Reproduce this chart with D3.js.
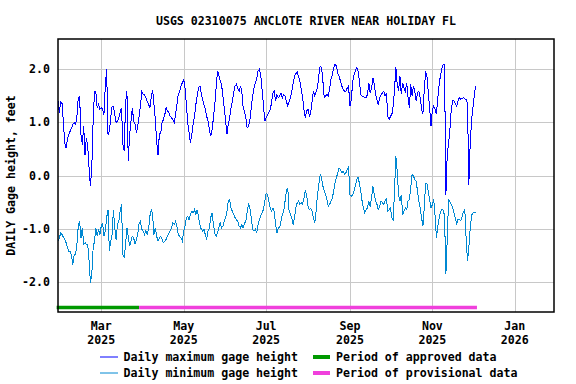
<!DOCTYPE html>
<html>
<head>
<meta charset="utf-8">
<script src="https://cdn.jsdelivr.net/npm/d3@7"></script>
<style>
body { margin: 0; background: #fff; }
svg text { font-family: "DejaVu Sans Mono", monospace; font-weight: bold; font-size: 11.6px; fill: #000; }
</style>
</head>
<body>
<div id="gage_div"></div>
<script>
// USGS daily gage height, max and min, one value per day starting at startDay
var startDay = "2025-01-28";
var domainDays = ["2025-01-28", "2026-01-30"];

var dailyMax = [
  1.39, 1.18, 1.38, 1.35, 0.99, 0.6, 0.52, 0.68, 0.77, 0.83,
  0.89, 0.96, 0.99, 0.96, 1.11, 1.46, 1.48, 0.77, 0.58, 0.93,
  0.39, 0.71, 0.55, 0.14, -0.2, 0.14, 1.02, 1.57, 1.57, 1.27,
  1.33, 1.24, 1.27, 1.24, 1.14, 1.68, 2.0, 0.77, 0.83, 1.08,
  1.3, 1.3, 1.14, 0.99, 1.02, 1.08, 1.18, 1.27, 0.58, 0.46,
  1.36, 1.58, 0.27, 0.77, 1.02, 1.27, 1.02, 0.96, 0.8, 0.93,
  1.11, 1.3, 1.57, 1.53, 1.52, 1.46, 1.39, 1.33, 1.28, 1.46,
  1.61, 1.33, 1.05, 0.64, 0.39, 0.77, 0.8, 0.99, 1.05, 1.14,
  1.27, 1.21, 1.18, 1.11, 1.08, 1.05, 0.99, 1.14, 1.33, 1.52,
  1.58, 1.68, 1.74, 1.8, 1.64, 1.33, 0.99, 0.8, 0.61, 0.77,
  0.96, 1.11, 1.33, 1.49, 1.64, 1.68, 1.55, 1.42, 1.33, 1.24,
  1.11, 1.02, 0.86, 0.74, 0.86, 1.08, 1.33, 1.64, 1.96,
  1.89, 1.77, 1.71, 1.49, 1.27, 1.02, 0.77, 0.96, 1.08, 1.27,
  1.39, 1.55, 1.68, 1.71, 1.64, 1.58, 1.68, 1.58, 1.27, 1.21,
  1.08, 0.89, 0.92, 1.05, 1.27, 1.49, 1.64, 1.74, 1.8, 1.96,
  1.99, 1.89, 1.61, 1.33, 1.02, 1.08, 1.14, 1.18, 1.24, 1.36, 1.55,
  1.58, 1.39, 1.52, 1.46, 1.49, 1.55, 1.46, 1.52, 1.49, 1.39,
  1.3, 1.39, 1.46, 1.58, 1.74, 1.86, 1.91, 1.94, 1.86, 1.77,
  1.61, 1.46, 1.24, 1.08, 1.21, 1.24, 1.11, 1.18, 1.39, 1.58,
  1.49, 1.58, 1.64, 1.89, 2.05, 2.02, 1.77, 1.46, 1.49, 1.52,
  1.49, 1.64, 1.8, 1.89, 2.02, 2.09, 2.05, 1.92, 1.86,
  1.77, 1.68, 1.61, 1.58, 1.58, 1.64, 1.68, 1.3, 1.42, 1.74,
  1.89, 1.96, 2.02, 1.96, 1.77, 1.52, 1.49, 1.49, 1.46, 1.46,
  1.52, 1.74, 1.55, 1.64, 1.83, 1.71, 1.52, 1.42, 1.33, 1.46, 1.51,
  1.55, 1.58, 1.49, 1.55, 1.11, 1.05, 1.11, 1.14, 1.3, 1.61,
  2.03, 1.71, 1.58, 1.86, 1.52, 1.74, 1.64, 1.58, 1.74, 1.46,
  1.27, 1.71, 1.49, 1.68, 1.58, 1.39, 1.55, 1.58,
  1.46, 1.25, 1.15, 1.6, 1.95, 1.85, 1.55, 1.25, 0.93, 1.22,
  1.3, 1.25, 1.15, 1.45, 1.7, 1.88, 2.0, 2.08, 2.08, -0.36,
  0.39, 0.61, 0.86, 1.24, 1.4, 1.4, 1.35, 1.3, 1.4, 1.46,
  1.43, 1.44, 1.46, 1.44, 1.42, 1.35, -0.17, 0.6, 1.04, 1.26,
  1.5, 1.68
];

var dailyMin = [
  -1.23, -1.17, -1.08, -1.11, -1.16, -1.2, -1.26, -1.36, -1.42, -1.42,
  -1.51, -1.67, -1.48, -1.48, -1.29, -0.95, -0.86, -1.17, -0.98, -1.29,
  -1.26, -1.29, -1.29, -1.61, -2.01, -1.86, -1.36, -1.23, -0.98, -1.14,
  -1.01, -1.11, -0.95, -0.89, -1.14, -1.04, -0.79, -0.64, -1.42, -1.23,
  -1.11, -0.64, -0.98, -1.2, -0.92, -0.86, -0.67, -0.54, -1.48, -1.54,
  -1.29, -0.98, -1.14, -1.33, -1.23, -1.14, -1.17, -1.29, -1.2,
  -1.11, -0.89, -0.86, -1.01, -1.04, -1.11, -1.04, -1.11, -1.01, -0.76,
  -0.64, -0.73, -1.11, -0.98, -1.14, -1.23, -1.17, -1.14, -1.2, -1.26, -1.23,
  -1.2, -1.14, -1.08, -1.04, -0.98, -0.89, -0.92, -0.86, -0.95, -1.11,
  -1.14, -1.17, -1.23, -1.04, -0.95, -0.79, -0.76, -0.83, -0.73, -0.67,
  -0.7, -0.64, -0.73, -0.64, -0.79, -0.92, -1.01, -1.04, -1.01, -1.11,
  -1.2, -1.04, -0.98, -0.79, -0.7, -0.92, -1.08, -1.14, -1.08, -0.98,
  -0.89, -0.98, -0.95, -0.86, -0.79, -0.67, -0.48, -0.45, -0.61,
  -0.67, -0.73, -0.79, -0.83, -0.86, -0.95, -0.98, -0.92, -0.98, -0.89,
  -0.86, -0.67, -0.54, -0.61, -0.79, -1.01, -1.04, -1.01, -1.08, -0.92,
  -0.83, -0.76, -0.7, -0.64, -0.48, -0.33, -0.36, -0.48, -0.61, -0.67, -0.61,
  -0.67, -0.92, -1.08, -0.98, -0.98, -0.86, -0.73, -0.67, -0.48, -0.29,
  -0.23, -0.67, -0.73, -0.79, -0.92, -0.79, -0.61, -0.51, -0.48, -0.54,
  -0.51, -0.54, -0.42, -0.29, -0.36, -0.58, -0.64, -0.61, -0.67, -0.79,
  -0.89, -0.67, -0.36, -0.17, 0.02, -0.04, -0.2, -0.29, -0.36, -0.45,
  -0.58, -0.54, -0.48, -0.42, -0.29, -0.14, -0.04, 0.05, 0.14,
  0.11, 0.05, 0.08, 0.02, 0.05, 0.11, 0.17, -0.36, -0.39, -0.36,
  -0.29, -0.2, -0.08, -0.04, -0.14, -0.29, -0.48, -0.61, -0.7, -0.64,
  -0.61, -0.48, -0.58, -0.42, -0.2, -0.36, -0.48, -0.54, -0.64, -0.58, -0.48,
  -0.51, -0.54, -0.48, -0.42, -0.67, -0.64, -0.61, -0.79, -0.83, -0.29,
  0.36, 0.08, -0.36, -0.48, -0.36, -0.73, -0.67, -0.61, -0.64, -0.48,
  -0.45, -0.23, 0.02, -0.01, -0.08, -0.11, -0.29, -0.48, -0.61, -0.79,
  -0.95, -0.6, -0.15, -0.15, -0.3, -0.45, -0.6, -0.55, -0.45, -0.75,
  -1.17, -0.95, -0.8, -0.68, -0.63, -0.65, -0.75, -1.85, -1.2, -0.45,
  -0.5, -0.55, -0.6, -0.7, -0.8, -0.92, -0.82, -0.83, -0.85, -0.78,
  -0.68, -0.64, -1.19, -1.6, -1.35, -1.0, -0.75, -0.7, -0.69, -0.69
];

// x axis ticks: first of every other month
var tickDays = ["2025-03-01", "2025-05-01", "2025-07-01", "2025-09-01", "2025-11-01", "2026-01-01"];
var tickMonths = ["Mar", "May", "Jul", "Sep", "Nov", "Jan"];
var tickYears = ["2025", "2025", "2025", "2025", "2025", "2026"];
var yTicks = [-2, -1, 0, 1, 2];

// approval periods drawn as a bar along the bottom
var periodNames = ["Period of approved data", "Period of provisional data"];
var periodStart = ["2025-01-27", "2025-03-29"];
var periodEnd = ["2025-03-29", "2025-12-04"];
var periodColors = ["#009900", "#f040dc"];

var seriesNames = ["Daily maximum gage height", "Daily minimum gage height"];
var seriesColors = ["#0000ff", "#0088d2"];

//Width and height
var w = 576;
var h = 384;
var margin = {left: 58, right: 22, top: 39, bottom: 72};
var pw = w - margin.left - margin.right;
var ph = h - margin.top - margin.bottom;

var parseDay = d3.utcParse("%Y-%m-%d");

var svg = d3.select("#gage_div")
    .append("svg")
    .attr("width", w)
    .attr("height", h);

var plot = svg.append("g")
    .attr("transform", `translate(${margin.left}, ${margin.top})`);

var xScale = d3.scaleUtc()
    .domain(domainDays.map(parseDay))
    .range([0, pw]);

var yScale = d3.scaleLinear()
    .domain([-2.56, 2.56])
    .range([ph, 0]);

// gridlines from the axes
var xGrid = d3.axisBottom(xScale)
    .tickValues(tickDays.map(parseDay))
    .tickSize(-ph)
    .tickFormat("");
var yAxis = d3.axisLeft(yScale)
    .tickValues(yTicks)
    .tickSize(-pw)
    .tickPadding(8)
    .tickFormat(d => d.toFixed(1));

plot.append("g")
    .attr("class", "x-grid")
    .attr("transform", `translate(0, ${ph})`)
    .call(xGrid);
plot.append("g")
    .attr("class", "y-axis")
    .call(yAxis);

plot.selectAll(".domain").remove();
plot.selectAll(".tick line")
    .attr("stroke", "#c8c8c8")
    .attr("shape-rendering", "crispEdges");
plot.selectAll(".y-axis .tick text")
    .attr("font-family", null)
    .attr("font-size", null);

// two line month / year labels
var xLabels = plot.append("g").attr("class", "x-labels");
tickDays.forEach((d, i) => {
    let t = xLabels.append("text")
        .attr("text-anchor", "middle")
        .attr("transform", `translate(${xScale(parseDay(d))}, ${ph})`);
    t.append("tspan").attr("x", 0).attr("y", 18).text(tickMonths[i]);
    t.append("tspan").attr("x", 0).attr("y", 32).text(tickYears[i]);
});

var line = d3.line()
    .x(d => xScale(d.date))
    .y(d => yScale(d.value));

function toPoints(values) {
    let start = parseDay(startDay);
    return values.map((v, i) => ({date: d3.utcDay.offset(start, i), value: v}));
}

plot.append("path")
    .datum(toPoints(dailyMin))
    .attr("d", line)
    .attr("fill", "none")
    .attr("stroke", seriesColors[1])
    .attr("stroke-width", 1)
    .attr("shape-rendering", "crispEdges");

plot.append("path")
    .datum(toPoints(dailyMax))
    .attr("d", line)
    .attr("fill", "none")
    .attr("stroke", seriesColors[0])
    .attr("stroke-width", 1)
    .attr("shape-rendering", "crispEdges");

// approval bar
periodNames.forEach((p, i) => {
    plot.append("line")
        .attr("x1", xScale(parseDay(periodStart[i])))
        .attr("x2", xScale(parseDay(periodEnd[i])))
        .attr("y1", ph - 4.5)
        .attr("y2", ph - 4.5)
        .attr("stroke", periodColors[i])
        .attr("stroke-width", 3.5);
});

plot.append("rect")
    .attr("width", pw)
    .attr("height", ph)
    .attr("fill", "none")
    .attr("stroke", "#000")
    .attr("stroke-width", 1.5);

// title and y label
svg.append("text")
    .attr("x", margin.left + pw / 2)
    .attr("y", 25)
    .attr("text-anchor", "middle")
    .text("USGS 02310075 ANCLOTE RIVER NEAR HOLIDAY FL");

svg.append("text")
    .attr("transform", `translate(15, ${margin.top + ph / 2}) rotate(-90)`)
    .attr("text-anchor", "middle")
    .text("DAILY Gage height, feet");

// legend
var legend = svg.append("g").attr("id", "legend");
var legendRows = [361, 377];
seriesNames.forEach((s, i) => {
    legend.append("line")
        .attr("x1", 100).attr("x2", 118)
        .attr("y1", legendRows[i] - 4).attr("y2", legendRows[i] - 4)
        .attr("stroke", seriesColors[i])
        .attr("stroke-width", 1);
    legend.append("text")
        .attr("x", 123.5)
        .attr("y", legendRows[i])
        .text(s);
});
periodNames.forEach((p, i) => {
    legend.append("line")
        .attr("x1", 313).attr("x2", 330)
        .attr("y1", legendRows[i] - 4).attr("y2", legendRows[i] - 4)
        .attr("stroke", periodColors[i])
        .attr("stroke-width", 4);
    legend.append("text")
        .attr("x", 336)
        .attr("y", legendRows[i])
        .text(p);
});
</script>
</body>
</html>
